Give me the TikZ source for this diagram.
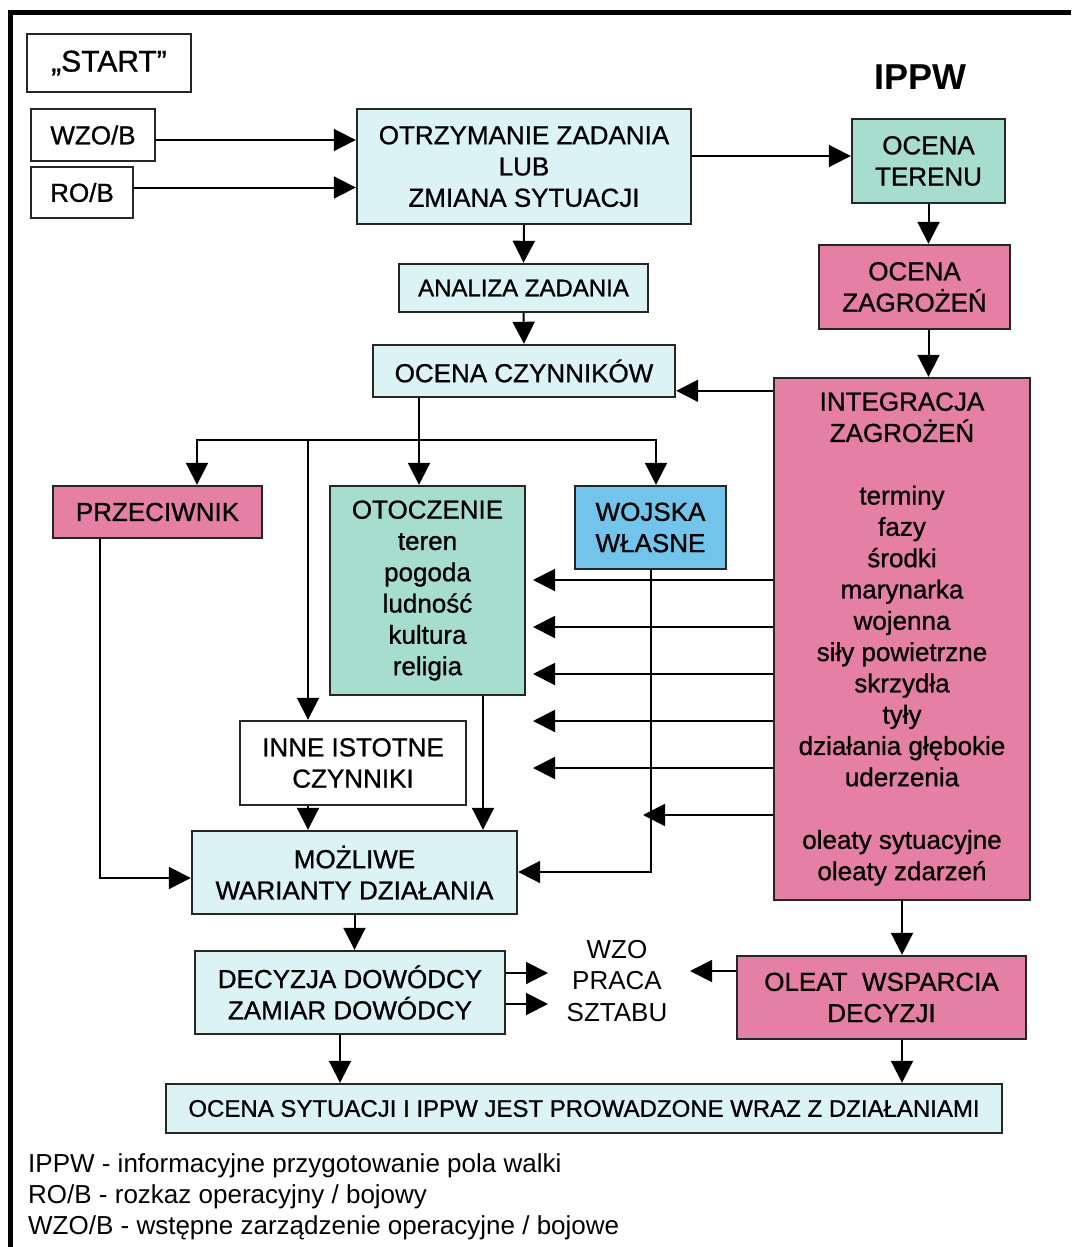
\documentclass[tikz,border=0pt]{standalone}
\usepackage{fontspec}
\setmainfont{Liberation Sans}
\newfontface\heavy{Liberation Sans}[FakeBold=0.9]
\newfontface\titleface{Liberation Sans Bold}
\usetikzlibrary{arrows.meta}
\definecolor{paleblue}{HTML}{DCF3F5}
\definecolor{mint}{HTML}{A6DDCF}
\definecolor{rose}{HTML}{E57FA4}
\definecolor{sky}{HTML}{72C4EA}

\begin{document}
\begin{tikzpicture}[x=1pt,y=-1pt,
  box/.style={draw=black!85, line width=2.4pt, inner sep=0pt, align=center,
              font=\fontsize{26}{31.3}\heavy},
  conn/.style={line width=2pt, -{Triangle[length=22pt,width=22pt]}},
  wire/.style={line width=2pt}]
\useasboundingbox (0,0) rectangle (1071,1247);

% outer frame (top and left edges)
\draw[line width=5pt] (1071,13) -- (10,13) -- (10,1247);

% title
\node[font=\fontsize{36}{40}\titleface] (title) at (920,77) {IPPW};

% boxes
\node[box, minimum width=164, minimum height=58, font=\fontsize{30}{34}\heavy] (start) at (109,63) {„START”};
\node[box, minimum width=124, minimum height=52] (wzo) at (93,135) {WZO/B};
\node[box, minimum width=102, minimum height=51] (ro) at (82,192.5) {RO/B};
\node[box, fill=paleblue, minimum width=334, minimum height=115] (otrz) at (524,166.5)
  {OTRZYMANIE ZADANIA\\LUB\\ZMIANA SYTUACJI};
\node[box, fill=mint, minimum width=153, minimum height=84] (teren) at (928.5,161) {OCENA\\TERENU};
\node[box, fill=rose, minimum width=191, minimum height=84] (zagr) at (914.5,287) {OCENA\\ZAGROŻEŃ};
\node[box, fill=paleblue, minimum width=249, minimum height=48, font=\fontsize{24}{29}\heavy] (anal) at (523.5,288) {ANALIZA ZADANIA};
\node[box, fill=paleblue, minimum width=302, minimum height=52] (czynn) at (524,371) {OCENA CZYNNIKÓW};
\node[box, fill=rose, minimum width=256, minimum height=522] (integr) at (902,639)
  {INTEGRACJA\\ZAGROŻEŃ\\[31.3pt]terminy\\fazy\\środki\\marynarka\\wojenna\\siły powietrzne\\skrzydła\\tyły\\działania głębokie\\uderzenia\\[31.3pt]oleaty sytuacyjne\\oleaty zdarzeń};
\node[box, fill=rose, minimum width=209, minimum height=52] (przec) at (157.5,512) {PRZECIWNIK};
\node[box, fill=mint, minimum width=195, minimum height=209] (otocz) at (427.5,590.5)
  {OTOCZENIE\\teren\\pogoda\\ludność\\kultura\\religia};
\node[box, fill=sky, minimum width=151, minimum height=83] (wojska) at (650.5,527.5) {WOJSKA\\WŁASNE};
\node[box, fill=white, minimum width=226, minimum height=84] (inne) at (353,763) {INNE ISTOTNE\\CZYNNIKI};
\node[box, fill=paleblue, minimum width=325, minimum height=83] (mozl) at (354.5,872.5) {MOŻLIWE\\WARIANTY DZIAŁANIA};
\node[box, fill=paleblue, minimum width=310, minimum height=83] (decyz) at (350,992.5) {DECYZJA DOWÓDCY\\ZAMIAR DOWÓDCY};
\node[box, fill=rose, minimum width=289, minimum height=83] (oleat) at (881.5,997.5) {OLEAT\ \ WSPARCIA\\DECYZJI};
\node[box, fill=paleblue, minimum width=836, minimum height=49, font=\fontsize{24}{29}\heavy] (ocena) at (584,1108.5)
  {OCENA SYTUACJI I IPPW JEST PROWADZONE WRAZ Z DZIAŁANIAMI};
\node[align=center, font=\fontsize{26}{31.3}\selectfont] (praca) at (617,981) {WZO\\PRACA\\SZTABU};

% legend
\node[anchor=west, align=left, inner sep=0pt, font=\fontsize{26}{31}\selectfont] (legend) at (28,1197)
  {IPPW - informacyjne przygotowanie pola walki\\RO/B - rozkaz operacyjny / bojowy\\WZO/B - wstępne zarządzenie operacyjne / bojowe};

% junction and bend points
\coordinate (wzoA) at ([yshift=-5pt]wzo.east);
\coordinate (roA) at ([yshift=5pt]ro.east);
\coordinate (terA) at ([yshift=5pt]teren.west);
\coordinate (intA) at ([yshift=-14pt]integr.north west);
\coordinate (jc) at (419,440);
\coordinate (busL) at (197,440);
\coordinate (busM) at (308,440);
\coordinate (busR) at (656,440);
\coordinate (pA) at (100,878);
\coordinate (oA) at (483,700);
\coordinate (wA) at (651,872);
\coordinate (oT) at (533,600);
\coordinate (dA) at (340,1040);
\coordinate (pracaL) at (548,980);
\coordinate (pracaR) at (690,971);

% connectors
\draw[conn] (wzoA) -- (wzoA -| otrz.west);
\draw[conn] (roA) -- (roA -| otrz.west);
\draw[conn] (terA -| otrz.east) -- (terA);
\draw[conn] (otrz.south) -- (anal.north);
\draw[conn] (anal.south) -- (czynn.north);
\draw[conn] (teren.south) -- (teren.south |- zagr.north);
\draw[conn] (teren.south |- zagr.south) -- (teren.south |- integr.north);
\draw[conn] (intA) -- (intA -| czynn.east);

\draw[wire] (jc |- czynn.south) -- (jc);
\draw[conn] (jc) -- (busL) -- (busL |- przec.north);
\draw[conn] (jc) -- (busR) -- (busR |- wojska.north);
\draw[conn] (jc) -- (jc |- otocz.north);
\draw[conn] (busM) -- (busM |- inne.north);

\draw[conn] (pA |- przec.south) -- (pA) -- (pA -| mozl.west);
\draw[conn] (busM |- inne.south) -- (busM |- mozl.north);
\draw[conn] (oA |- otocz.south) -- (oA |- mozl.north);
\draw[conn] (wA |- wojska.south) -- (wA) -- (wA -| mozl.east);

\foreach \yy in {580,627,674,721,768}
  \draw[conn] (integr.west |- 0,\yy) -- (oT |- 0,\yy);
\draw[conn, shorten >=-8pt] (integr.west |- 0,815) -- (wA |- 0,815);

\draw[conn] (integr.south) -- (integr.south |- oleat.north);
\draw[conn] (mozl.south) -- (mozl.south |- decyz.north);
\draw[conn] (decyz.east |- 0,973) -- (pracaL |- 0,973);
\draw[conn] (decyz.east |- 0,1004) -- (pracaL |- 0,1004);
\draw[conn] (oleat.west |- pracaR) -- (pracaR);
\draw[conn] (dA |- decyz.south) -- (dA |- ocena.north);
\draw[conn] (integr.south |- oleat.south) -- (integr.south |- ocena.north);
\end{tikzpicture}
\end{document}
